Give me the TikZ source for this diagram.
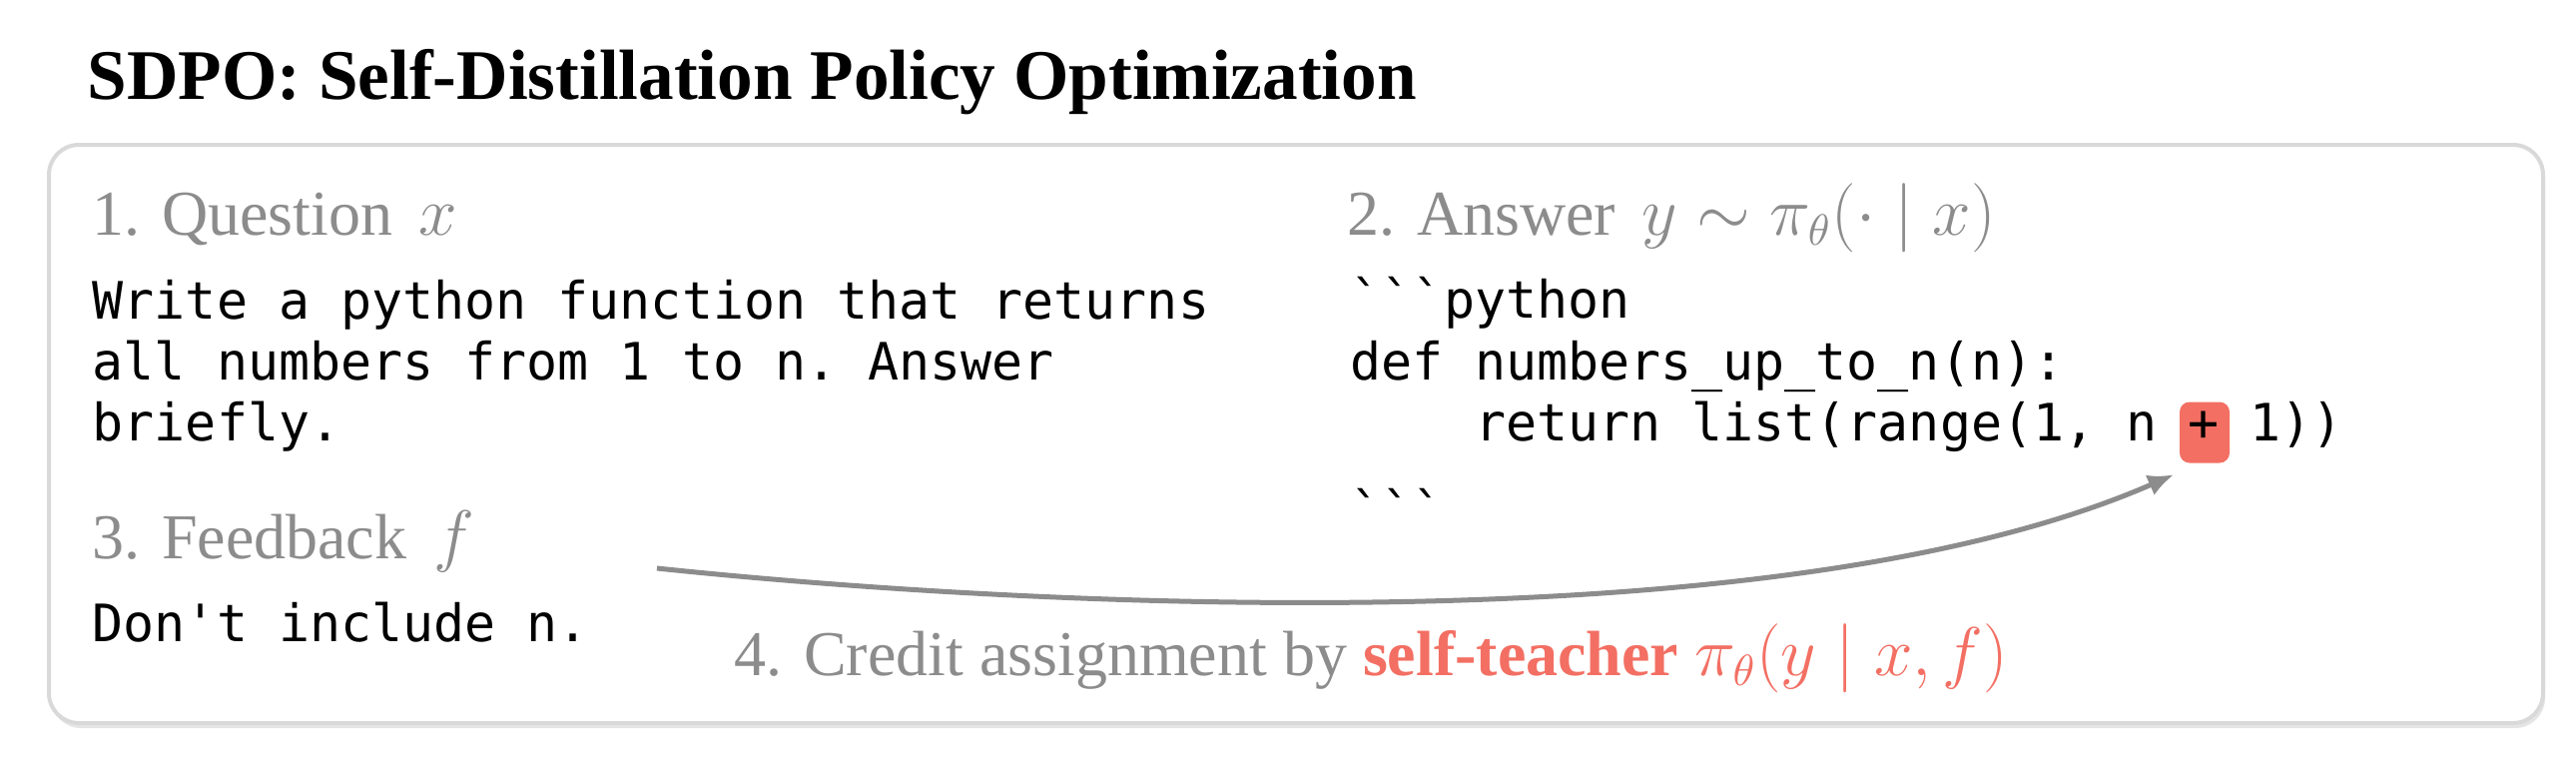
\documentclass[tikz,border=0pt]{standalone}
\usepackage{fontspec}
\setmainfont{Liberation Serif}
\setmonofont{DejaVu Sans Mono}
\usetikzlibrary{arrows.meta}
\definecolor{lblgray}{HTML}{8C8C8C}
\definecolor{teachred}{HTML}{F36F63}
\definecolor{boxgray}{HTML}{D9D9D9}
\begin{document}
\begin{tikzpicture}[x=0.25pt,y=-0.25pt,
  titlestyle/.style={anchor=base west, inner sep=0, font=\fontsize{17.8}{21}\selectfont\bfseries},
  lbl/.style={anchor=base west, inner sep=0, text=lblgray, font=\fontsize{16}{19}\selectfont},
  code/.style={anchor=base west, inner sep=0, font=\fontsize{12.9}{15.5}\selectfont\ttfamily},
  hl/.style={fill=teachred, rounded corners=2.5pt, minimum width=12.5pt, minimum height=15.25pt, inner sep=0},
  arr/.style={draw=lblgray, line width=1.25pt, -{Latex[length=6.5pt,width=5.5pt]}},
  panel/.style={draw=boxgray, line width=1pt, fill=white, rounded corners=7.5pt},
  panelshadow/.style={fill=black!10, rounded corners=7.5pt}]
\useasboundingbox (0,0) rectangle (2580,774);

% title
\node[titlestyle] (title) at (87,99) {SDPO: Self-Distillation Policy Optimization};

% panel
\fill[panelshadow] (51,149) rectangle (2549,729);
\draw[panel] (49,145) rectangle (2547,724);

% 1. question
\node[lbl] (qlbl) at (92,235) {1. Question \,$x$};
\node[code] (q1) at (92,319) {Write a python function that returns};
\node[code] (q2) at (92,380) {all numbers from 1 to n. Answer};
\node[code] (q3) at (92,441) {briefly.};

% 2. answer
\node[lbl] (albl) at (1349,235) {2. Answer \,$y \sim \pi_\theta(\cdot \mid x)$};
\node[hl] (plus) at (2208,433) {};
\node[code] (a1) at (1352,318) {\textasciigrave\textasciigrave\textasciigrave python};
\node[code] (a2) at (1352,380) {def numbers\_up\_to\_n(n):};
\node[code] (a3) at (1352,441) {\phantom{xxxx}return list(range(1, n + 1))};
\node[code] (a4) at (1352,530) {\textasciigrave\textasciigrave\textasciigrave};

% 3. feedback
\node[lbl] (flbl) at (92,559) {3. Feedback \,$f$};
\node[code] (f1) at (92,642) {Don't include n.};

% 4. credit assignment
\node[lbl] (clbl) at (735,676) {4. Credit assignment by {\color{teachred}\bfseries self-teacher} {\color{teachred}$\pi_\theta(y \mid x, f)$}};

% arrow
\coordinate (fbstart) at (658,569);
\coordinate (tip) at ([shift={(-5,11)}]plus.south west);
\draw[arr] (fbstart) .. controls (1000,605) and (1775,651) .. (tip);
\end{tikzpicture}
\end{document}
